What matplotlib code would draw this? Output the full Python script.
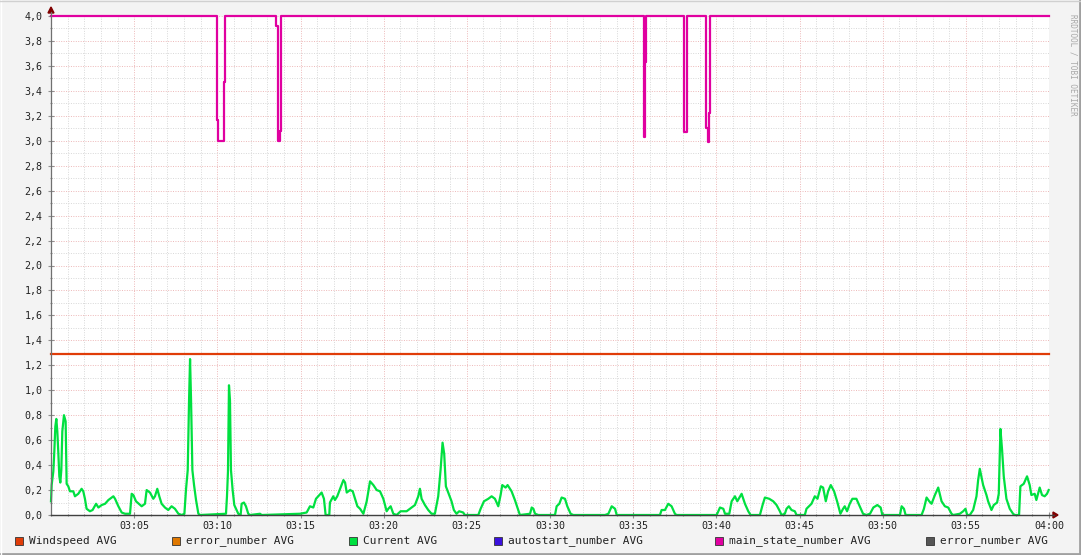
import matplotlib.pyplot as plt
from matplotlib.lines import Line2D
from matplotlib.patches import Rectangle, Polygon
from matplotlib.ticker import MultipleLocator

# time axis in minutes after 03:00
current_t = [0.0, 0.04, 0.14, 0.20, 0.26, 0.32, 0.38, 0.44, 0.50, 0.56, 0.62, 0.68, 0.78, 0.88, 0.94,
             1.04, 1.14, 1.34, 1.44, 1.64, 1.84, 1.94, 2.04, 2.14, 2.34, 2.50, 2.71, 2.85, 3.05, 3.25,
             3.45, 3.75, 3.85, 4.05, 4.25, 4.45, 4.75, 4.85, 4.95, 5.11, 5.45, 5.65, 5.75, 5.95, 6.15,
             6.25, 6.39, 6.51, 6.65, 6.85, 7.05, 7.25, 7.45, 7.66, 7.86, 8.02, 8.12, 8.22, 8.30, 8.36,
             8.42, 8.50, 8.60, 8.72, 8.86, 8.96, 10.52, 10.58, 10.64, 10.70, 10.76, 10.82, 10.92, 11.02,
             11.16, 11.26, 11.40, 11.46, 11.60, 11.72, 11.86, 11.96, 12.57, 12.66, 14.97, 15.37, 15.57,
             15.77, 15.93, 16.13, 16.27, 16.41, 16.51, 16.73, 16.77, 16.97, 17.07, 17.21, 17.41, 17.58,
             17.68, 17.78, 17.98, 18.14, 18.28, 18.42, 18.58, 18.78, 18.98, 19.18, 19.38, 19.58, 19.78,
             19.98, 20.18, 20.28, 20.42, 20.58, 20.78, 21.02, 21.18, 21.38, 21.58, 21.88, 22.08, 22.18,
             22.28, 22.48, 22.68, 22.88, 23.08, 23.28, 23.42, 23.54, 23.64, 23.74, 23.94, 24.08, 24.22,
             24.38, 24.54, 24.78, 24.88, 25.69, 25.83, 26.03, 26.29, 26.49, 26.69, 26.89, 27.03, 27.13,
             27.33, 27.45, 27.69, 27.89, 28.09, 28.19, 28.80, 28.90, 29.00, 29.10, 29.30, 30.30, 30.40,
             30.56, 30.70, 30.90, 31.04, 31.24, 31.40, 33.31, 33.51, 33.71, 33.91, 34.01, 36.61, 36.71,
             36.91, 37.11, 37.31, 37.51, 37.61, 40.02, 40.12, 40.22, 40.42, 40.52, 40.78, 40.92, 41.12,
             41.26, 41.52, 41.72, 41.92, 42.06, 42.62, 42.78, 42.92, 43.18, 43.42, 43.62, 43.82, 43.92,
             44.12, 44.22, 44.36, 44.52, 44.72, 44.82, 45.32, 45.42, 45.72, 45.92, 46.08, 46.28, 46.42,
             46.58, 46.72, 46.88, 47.08, 47.26, 47.46, 47.62, 47.72, 47.86, 48.02, 48.18, 48.42, 48.62,
             48.82, 49.02, 49.24, 49.44, 49.68, 49.88, 49.98, 51.04, 51.14, 51.28, 51.38, 52.34, 52.48,
             52.64, 52.80, 52.94, 53.14, 53.34, 53.54, 53.74, 53.94, 54.14, 54.24, 54.64, 54.84, 54.98,
             55.08, 55.24, 55.44, 55.64, 55.74, 55.84, 56.04, 56.24, 56.34, 56.54, 56.68, 56.88, 56.98,
             57.08, 57.18, 57.28, 57.44, 57.64, 57.84, 57.94, 58.20, 58.28, 58.48, 58.68, 58.84, 58.94,
             59.14, 59.24, 59.44, 59.58, 59.74, 59.88, 59.98]
current_v = [0.11, 0.24, 0.35, 0.51, 0.71, 0.77, 0.67, 0.50, 0.31, 0.26, 0.36, 0.67, 0.80, 0.75, 0.25,
             0.23, 0.19, 0.19, 0.15, 0.17, 0.21, 0.19, 0.13, 0.05, 0.03, 0.04, 0.09, 0.06, 0.08, 0.09,
             0.12, 0.15, 0.13, 0.07, 0.02, 0.01, 0.01, 0.17, 0.16, 0.11, 0.07, 0.09, 0.20, 0.18, 0.13,
             0.15, 0.21, 0.15, 0.09, 0.06, 0.04, 0.07, 0.05, 0.01, 0.0, 0.01, 0.21, 0.36, 0.92, 1.25,
             0.92, 0.36, 0.24, 0.12, 0.01, 0.0, 0.01, 0.15, 0.35, 1.04, 0.92, 0.36, 0.20, 0.08,
             0.04, 0.01, 0.0, 0.09, 0.10, 0.07, 0.01, 0.0, 0.01, 0.0, 0.01, 0.02, 0.07,
             0.06, 0.13, 0.16, 0.18, 0.13, 0.0, 0.0, 0.10, 0.15, 0.12, 0.15, 0.22, 0.28,
             0.26, 0.18, 0.20, 0.19, 0.13, 0.07, 0.05, 0.01, 0.11, 0.27, 0.24, 0.20, 0.19,
             0.13, 0.03, 0.05, 0.07, 0.01, 0.0, 0.03, 0.03, 0.03, 0.05, 0.08, 0.15, 0.21,
             0.13, 0.08, 0.04, 0.01, 0.01, 0.15, 0.36, 0.58, 0.49, 0.23, 0.16, 0.11, 0.04,
             0.01, 0.03, 0.02, 0.0, 0.0, 0.05, 0.11, 0.13, 0.15, 0.13, 0.07, 0.16, 0.24,
             0.22, 0.24, 0.19, 0.12, 0.04, 0.0, 0.01, 0.06, 0.05, 0.01, 0.0, 0.0, 0.07,
             0.09, 0.14, 0.13, 0.07, 0.01, 0.0, 0.0, 0.01, 0.07, 0.05, 0.0, 0.0, 0.04,
             0.04, 0.09, 0.07, 0.01, 0.0, 0.0, 0.03, 0.06, 0.05, 0.01, 0.01, 0.11, 0.15,
             0.11, 0.17, 0.09, 0.03, 0.0, 0.0, 0.08, 0.14, 0.13, 0.11, 0.08, 0.03, 0.0,
             0.01, 0.05, 0.07, 0.04, 0.03, 0.0, 0.0, 0.05, 0.09, 0.15, 0.13, 0.23, 0.22,
             0.11, 0.19, 0.24, 0.19, 0.11, 0.01, 0.05, 0.07, 0.03, 0.09, 0.13, 0.13, 0.07,
             0.01, 0.0, 0.01, 0.06, 0.08, 0.06, 0.0, 0.0, 0.07, 0.05, 0.0, 0.0, 0.05,
             0.14, 0.11, 0.09, 0.16, 0.22, 0.11, 0.07, 0.06, 0.01, 0.0, 0.01, 0.03, 0.05,
             0.0, 0.0, 0.04, 0.15, 0.28, 0.37, 0.24, 0.16, 0.11, 0.04, 0.08, 0.10, 0.17,
             0.69, 0.52, 0.31, 0.13, 0.05, 0.01, 0.0, 0.0, 0.23, 0.25, 0.31, 0.24, 0.16,
             0.17, 0.12, 0.22, 0.16, 0.15, 0.17, 0.20]

state_t = [0, 9.96, 10.06, 10.40, 10.48, 13.53, 13.63, 13.77, 13.83, 35.63, 35.73, 35.80,
           38.08, 38.23, 39.38, 39.47, 39.57, 39.63, 60]
state_v = [4.0, 3.17, 3.0, 3.47, 4.0, 3.92, 3.0, 3.08, 4.0, 3.03, 3.63, 4.0,
           3.07, 4.0, 3.10, 2.99, 3.22, 4.0, 4.0]

windspeed_t = [0, 60]
windspeed_v = [1.29, 1.29]

xtick_minutes = list(range(5, 61, 5))
xtick_labels = ["03:05", "03:10", "03:15", "03:20", "03:25", "03:30",
                "03:35", "03:40", "03:45", "03:50", "03:55", "04:00"]
ytick_values = [i / 5 for i in range(21)]

legend_names = ["Windspeed AVG", "error_number AVG", "Current AVG",
                "autostart_number AVG", "main_state_number AVG", "error_number AVG"]
legend_colors = ["#E03C08", "#E07800", "#00E040", "#3A10DD", "#E000A0", "#555555"]
legend_x = [15, 172, 349, 494, 715, 926]

W, H = 1081, 555
plt.rcParams['font.family'] = 'DejaVu Sans Mono'
fig = plt.figure(figsize=(W / 100, H / 100), dpi=100, facecolor='#F3F3F3')
ax = fig.add_axes([51 / W, 1 - 515 / H, (1049 - 51) / W, (515 - 16) / H])
ax.set_facecolor('white')

# grid
ax.xaxis.set_minor_locator(MultipleLocator(1))
ax.yaxis.set_minor_locator(MultipleLocator(0.1))
ax.set_xticks(xtick_minutes)
ax.set_xticklabels(xtick_labels)
ax.set_yticks(ytick_values)
ax.set_yticklabels([f"{v:.1f}".replace('.', ',') for v in ytick_values])
ax.grid(which='minor', color='#D8D8D8', linestyle=(0, (1, 1.5)), linewidth=0.7)
ax.grid(which='major', color='#EDB8B8', linestyle=(0, (1, 1.5)), linewidth=0.7)
ax.set_axisbelow(True)
ax.set_xlim(0, 60)
ax.set_ylim(0, 4.0)
for s in ax.spines.values():
    s.set_visible(False)
ax.tick_params(which='both', direction='inout', color='#909090', labelsize=7.2, labelcolor='#222222')
ax.tick_params(which='major', length=4, width=0.8)
ax.tick_params(which='minor', length=2, width=0.8)
ax.tick_params(axis='y', pad=4)
ax.tick_params(axis='x', pad=2)

ax.plot(windspeed_t, windspeed_v, color='#E03C08', lw=1.6, clip_on=False)
ax.plot(current_t, current_v, color='#00E040', lw=1.6, clip_on=False)
ax.step(state_t, state_v, where='post', color='#E000A0', lw=1.6, clip_on=False)

# axes lines and arrows
fig.add_artist(Line2D([51 / W, 51 / W], [1 - 515 / H, 1 - 12 / H], color='#707070', lw=0.9))
fig.add_artist(Line2D([51 / W, 1054 / W], [1 - 515 / H, 1 - 515 / H], color='#404040', lw=1.0))
fig.add_artist(Polygon([[51 / W, 1 - 7 / H], [48 / W, 1 - 13 / H], [54 / W, 1 - 13 / H]],
                       closed=True, color='#800000'))
fig.add_artist(Polygon([[1058 / W, 1 - 515 / H], [1053 / W, 1 - 512 / H], [1053 / W, 1 - 518 / H]],
                       closed=True, color='#800000'))

# legend
for name, color, x in zip(legend_names, legend_colors, legend_x):
    fig.add_artist(Rectangle((x / W, 1 - 545 / H), 8 / W, 8 / H, facecolor=color,
                             edgecolor='#333333', lw=0.6))
    fig.text((x + 14) / W, 1 - 541 / H, name, fontsize=8, va='center', ha='left', color='#222222')

# watermark
fig.text(1073 / W, 1 - 14 / H, "RRDTOOL / TOBI OETIKER", rotation=270, fontsize=5.5,
         color='#A8A8A8', ha='center', va='top')

# frame
fig.add_artist(Line2D([1 - 1.5 / W, 1 - 1.5 / W], [0, 1], color='#A0A0A0', lw=2))
fig.add_artist(Line2D([0, 1], [1.5 / H, 1.5 / H], color='#A0A0A0', lw=2))
fig.add_artist(Line2D([0.5 / W, 0.5 / W], [0, 1], color='#FFFFFF', lw=1))
fig.add_artist(Line2D([0, 1], [1 - 0.5 / H, 1 - 0.5 / H], color='#D0D0D0', lw=1))

fig.savefig("out.png", dpi=100, facecolor=fig.get_facecolor())
